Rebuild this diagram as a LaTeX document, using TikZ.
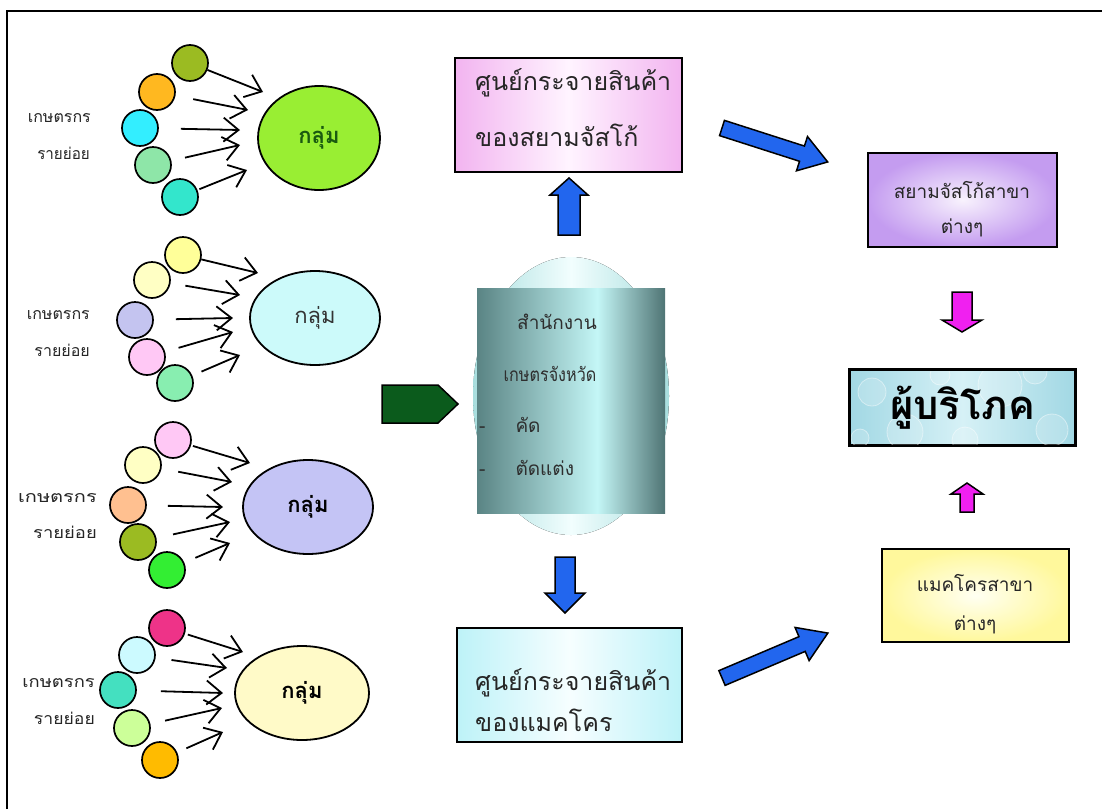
\documentclass[tikz,border=0pt]{standalone}
\usepackage{fontspec}
\newfontfamily\thai[Script=Thai]{Loma}
\usetikzlibrary{arrows.meta,calc,shapes.geometric}
\definecolor{blu}{HTML}{2266EE}
\definecolor{mag}{HTML}{F020F0}
\definecolor{dkg}{HTML}{0B5B1C}
\definecolor{olive}{HTML}{9BBB22}
\definecolor{orng}{HTML}{FFB820}
\definecolor{cyn}{HTML}{33EEFF}
\definecolor{lgrn}{HTML}{8EE6A8}
\definecolor{teal1}{HTML}{33E6CC}
\definecolor{yel1}{HTML}{FFFF99}
\definecolor{yel2}{HTML}{FFFFC4}
\definecolor{lav}{HTML}{C4C4F0}
\definecolor{pnk}{HTML}{FFC8F5}
\definecolor{mint}{HTML}{88EEB0}
\definecolor{peach}{HTML}{FFC090}
\definecolor{grn}{HTML}{33EE33}
\definecolor{magc}{HTML}{EE3388}
\definecolor{lcyn}{HTML}{CCFAFF}
\definecolor{teal2}{HTML}{44E0C0}
\definecolor{lime}{HTML}{CCFF99}
\definecolor{orng2}{HTML}{FFBB00}
\definecolor{eg1}{HTML}{99EE33}
\definecolor{eg1t}{HTML}{1A5A10}
\definecolor{eg2}{HTML}{CCFAFA}
\definecolor{eg3}{HTML}{C4C4F5}
\definecolor{eg4}{HTML}{FFFAC8}
\definecolor{offE}{HTML}{A8DEDE}
\definecolor{offM}{HTML}{F2FEFE}
\definecolor{recL}{HTML}{5A8484}
\definecolor{recM}{HTML}{C4F6F6}
\definecolor{recR}{HTML}{4F7474}
\definecolor{pkE}{HTML}{F2B4F0}
\definecolor{pkM}{HTML}{FFF4FF}
\definecolor{cyE}{HTML}{BDF2F8}
\definecolor{cyM}{HTML}{F6FEFF}
\definecolor{puI}{HTML}{F8F2FD}
\definecolor{puO}{HTML}{C49CF0}
\definecolor{coE}{HTML}{A2D8E4}
\definecolor{coM}{HTML}{D6F1F6}
\definecolor{yeI}{HTML}{FFFFF2}
\definecolor{yeO}{HTML}{FFF89C}
\pgfdeclarehorizontalshading{offsh}{100bp}{color(0bp)=(recL); color(25bp)=(recL); color(57bp)=(recM); color(75bp)=(recR); color(100bp)=(recR)}
\newcommand\blockarr[7]{%
\begin{scope}[shift={#2}, rotate=#3]
\draw[#1] (0,-#5) -- ({#4-#7},-#5) -- ({#4-#7},-#6) -- (#4,0) -- ({#4-#7},#6) -- ({#4-#7},#5) -- (0,#5) -- cycle;
\end{scope}}
\begin{document}
\begin{tikzpicture}[x=1pt,y=-1pt,
  every node/.style={font=\thai},
  farmer/.style={circle, draw, line width=1.7pt, minimum size=36pt, inner sep=0pt},
  grp/.style={ellipse, draw, line width=1.8pt, inner sep=0pt},
  fan/.style={line width=1.8pt, -{Straight Barb[length=15pt,width=24pt,line width=1.8pt]}},
  lbl/.style={anchor=east, inner sep=0pt, text=black!85, font=\thai\fontsize{16}{19}\selectfont},
  gtxt/.style={inner sep=0pt, font=\thai\fontsize{22}{25}\selectfont},
  box/.style={draw, line width=2pt, inner sep=0pt},
  btxt/.style={inner sep=0pt, text=black!85, font=\thai\fontsize{25}{29}\selectfont},
  otxt/.style={inner sep=0pt, text=black!82, font=\thai\fontsize{19}{22}\selectfont},
  rtxt/.style={inner sep=0pt, text=black!85, font=\thai\fontsize{19}{22}\selectfont},
  blk/.style={draw=black, line width=1.5pt, line join=miter},
  bubble/.style={draw=white, line width=0.8pt, fill=white, fill opacity=0.18, draw opacity=0.45},
]
\useasboundingbox (0,0) rectangle (1102,809);
\fill[white] (0,0) rectangle (1102,809);
\draw[line width=2.5pt] (7,809) -- (7,11) -- (1102,11);

% ---------- group 1
\node[lbl] (l1a) at (91,118) {เกษตรกร};
\node[lbl] (l1b) at (90,153) {\scalebox{0.95}[1]{รายย่อย}};
\node[grp, fill=eg1, minimum width=122pt, minimum height=104pt] (g1) at (319,138) {};
\node[gtxt, text=eg1t, font=\thai\bfseries\fontsize{22}{25}\selectfont] (g1t) at (g1) {กลุ่ม};
\node[farmer, fill=olive] (c11) at (190,63) {};
\node[farmer, fill=orng] (c12) at (157,92) {};
\node[farmer, fill=cyn] (c13) at (140,128) {};
\node[farmer, fill=lgrn] (c14) at (153,165) {};
\node[farmer, fill=teal1] (c15) at (180,197) {};
\coordinate (e11) at (263,92);
\coordinate (e12) at (248,110);
\coordinate (e13) at (240,130);
\coordinate (e14) at (240,145);
\coordinate (e15) at (247,170);
\draw[fan] (c11) -- (e11);
\draw[fan, shorten <=18pt] (c12) -- (e12);
\draw[fan, shorten <=22pt] (c13) -- (e13);
\draw[fan, shorten <=14pt] (c14) -- (e14);
\draw[fan, shorten <=2pt] (c15) -- (e15);

% ---------- group 2
\node[lbl] (l2a) at (90,315) {เกษตรกร};
\node[lbl] (l2b) at (90,350) {รายย่อย};
\node[grp, fill=eg2, minimum width=130pt, minimum height=94pt] (g2) at (315,318) {};
\node[gtxt, text=black!80] (g2t) at (g2) {กลุ่ม};
\node[farmer, fill=yel1] (c21) at (183,255) {};
\node[farmer, fill=yel2] (c22) at (152,280) {};
\node[farmer, fill=lav] (c23) at (135,320) {};
\node[farmer, fill=pnk] (c24) at (147,357) {};
\node[farmer, fill=mint] (c25) at (175,383) {};
\coordinate (e21) at (258,273);
\coordinate (e22) at (240,295);
\coordinate (e23) at (233,318);
\coordinate (e24) at (233,332);
\coordinate (e25) at (240,355);
\draw[fan] (c21) -- (e21);
\draw[fan, shorten <=15pt] (c22) -- (e22);
\draw[fan, shorten <=22pt] (c23) -- (e23);
\draw[fan, shorten <=14pt] (c24) -- (e24);
\draw[fan, shorten <=10pt] (c25) -- (e25);

% ---------- group 3
\node[lbl] (l3a) at (97,498) {\scalebox{1.25}[1]{เกษตรกร}};
\node[lbl] (l3b) at (97,532) {\scalebox{1.15}[1]{รายย่อย}};
\node[grp, fill=eg3, minimum width=130pt, minimum height=94pt] (g3) at (308,507) {};
\node[gtxt, font=\thai\bfseries\fontsize{22}{25}\selectfont] (g3t) at (g3) {กลุ่ม};
\node[farmer, fill=pnk] (c31) at (173,440) {};
\node[farmer, fill=yel2] (c32) at (143,465) {};
\node[farmer, fill=peach] (c33) at (128,505) {};
\node[farmer, fill=olive] (c34) at (138,542) {};
\node[farmer, fill=grn] (c35) at (167,570) {};
\coordinate (e31) at (250,463);
\coordinate (e32) at (232,482);
\coordinate (e33) at (223,507);
\coordinate (e34) at (230,522);
\coordinate (e35) at (230,543);
\draw[fan, shorten <=2pt] (c31) -- (e31);
\draw[fan, shorten <=17pt] (c32) -- (e32);
\draw[fan, shorten <=21pt] (c33) -- (e33);
\draw[fan, shorten <=17pt] (c34) -- (e34);
\draw[fan, shorten <=12pt] (c35) -- (e35);

% ---------- group 4
\node[lbl] (l4a) at (95,683) {\scalebox{1.15}[1]{เกษตรกร}};
\node[lbl] (l4b) at (95,718) {\scalebox{1.1}[1]{รายย่อย}};
\node[grp, fill=eg4, minimum width=134pt, minimum height=94pt] (g4) at (302,693) {};
\node[gtxt, font=\thai\bfseries\fontsize{22}{25}\selectfont] (g4t) at (g4) {กลุ่ม};
\node[farmer, fill=magc] (c41) at (167,628) {};
\node[farmer, fill=lcyn] (c42) at (137,655) {};
\node[farmer, fill=teal2] (c43) at (118,690) {};
\node[farmer, fill=lime] (c44) at (132,728) {};
\node[farmer, fill=orng2] (c45) at (160,760) {};
\coordinate (e41) at (243,652);
\coordinate (e42) at (227,668);
\coordinate (e43) at (223,693);
\coordinate (e44) at (222,708);
\coordinate (e45) at (223,732);
\draw[fan, shorten <=3pt] (c41) -- (e41);
\draw[fan, shorten <=16pt] (c42) -- (e42);
\draw[fan, shorten <=24pt] (c43) -- (e43);
\draw[fan, shorten <=15pt] (c44) -- (e44);
\draw[fan, shorten <=10pt] (c45) -- (e45);

% ---------- green pointer
\draw[blk, fill=dkg] (382,385) -- (438,385) -- (458,404) -- (438,423) -- (382,423) -- cycle;

% ---------- office shape
\fill[left color=offE, right color=offE, middle color=offM] (571,396) ellipse [x radius=98, y radius=139];
\node[rectangle, minimum width=188pt, minimum height=225pt, inner sep=0pt,
      shading=offsh] (office) at (571,400.5) {};
\node[otxt] (o1) at (557,322) {สำนักงาน};
\node[otxt] (o2) at (550,374) {\scalebox{0.85}[1]{เกษตรจังหวัด}};
\node[otxt, anchor=west] (o3) at (479,425) {-\hspace{30pt}คัด};
\node[otxt, anchor=west] (o4) at (479,468) {-\hspace{30pt}ตัดแต่ง};

% ---------- middle boxes
\node[box, minimum width=227pt, minimum height=114pt,
      left color=pkE, right color=pkE, middle color=pkM] (dcs) at (568.5,115) {};
\node[btxt, anchor=west] (dcs1) at (475,83) {ศูนย์กระจายสินค้า};
\node[btxt, anchor=west] (dcs2) at (475,135) {ของสยามจัสโก้};

\node[box, minimum width=225pt, minimum height=114pt,
      left color=cyE, right color=cyE, middle color=cyM] (dcm) at (569.5,685) {};
\node[btxt, anchor=west] (dcm1) at (475,683) {ศูนย์กระจายสินค้า};
\node[btxt, anchor=west] (dcm2) at (475,720) {ของแมคโคร};

% ---------- right boxes
\node[box, minimum width=189pt, minimum height=94pt,
      inner color=puI, outer color=puO] (js) at (962.5,200) {};
\node[rtxt] (js1) at (962,190) {สยามจัสโก้สาขา};
\node[rtxt] (js2) at (962,228) {ต่างๆ};

\node[box, minimum width=225pt, minimum height=75pt,
      left color=coE, right color=coE, middle color=coM] (cons) at (962.5,407.5) {};
\begin{scope}
\clip (851,371) rectangle (1074,444);
\draw[bubble] (872,392) circle (14);
\draw[bubble] (905,432) circle (18);
\draw[bubble] (1000,385) circle (22);
\draw[bubble] (1052,430) circle (16);
\draw[bubble] (940,375) circle (10);
\draw[bubble] (1035,372) circle (12);
\draw[bubble] (965,440) circle (13);
\draw[bubble] (860,438) circle (9);
\end{scope}
\draw[line width=2pt] (cons.north west) rectangle (cons.south east);
\node[inner sep=0pt, text=black, font=\thai\bfseries\fontsize{40}{44}\selectfont] (cons1) at (cons) {ผู้บริโภค};

\node[box, minimum width=187pt, minimum height=93pt,
      inner color=yeI, outer color=yeO] (mk) at (975.5,595.5) {};
\node[rtxt] (mk1) at (975,583) {แมคโครสาขา};
\node[rtxt] (mk2) at (975,625) {ต่างๆ};

% ---------- block arrows
\blockarr{blk, fill=blu}{(569,235)}{90}{57}{11}{19}{17}
\blockarr{blk, fill=blu}{(565,557)}{-90}{56}{10}{20}{20}
\blockarr{blk, fill=blu}{(722,128)}{-17.8}{111}{8}{18}{27}
\blockarr{blk, fill=blu}{(722,678)}{23}{115}{8}{18}{28}
\blockarr{blk, fill=mag}{(962,292)}{-90}{40}{10}{20}{12}
\blockarr{blk, fill=mag}{(967,512)}{90}{29}{7}{16}{11}
\end{tikzpicture}
\end{document}
